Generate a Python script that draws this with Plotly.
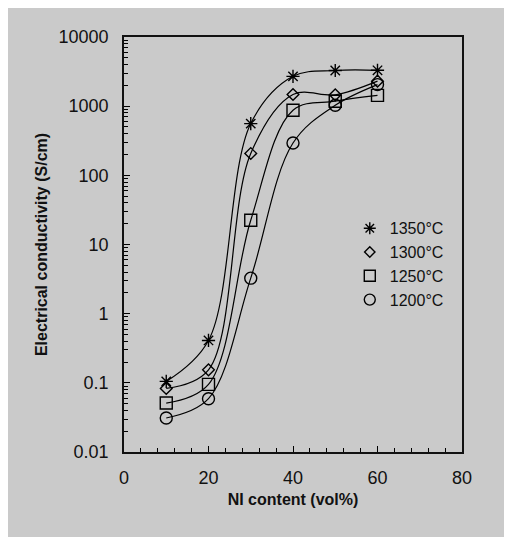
import plotly.graph_objects as go

ni_content = [10, 20, 30, 40, 50, 60]
temps = ["1350°C", "1300°C", "1250°C", "1200°C"]
cond_1350 = [0.105, 0.41, 560, 2700, 3280, 3300]
cond_1300 = [0.083, 0.154, 207, 1475, 1460, 2300]
cond_1250 = [0.051, 0.095, 22.4, 875, 1180, 1430]
cond_1200 = [0.031, 0.059, 3.26, 293, 1030, 2050]
series = [cond_1350, cond_1300, cond_1250, cond_1200]
symbols = ["asterisk-open", "diamond-open", "square-open", "circle-open"]
sizes = [11, 9, 12, 12]

y_tickvals = [0.01, 0.1, 1, 10, 100, 1000, 10000]
y_ticktext = ["0.01", "0.1", "1", "10", "100", "1000", "10000"]
x_tickvals = [0, 20, 40, 60, 80]

font_family = "Arial, Liberation Sans, sans-serif"
bg = "#cacaca"

fig = go.Figure()
for name, vals, sym, sz in zip(temps, series, symbols, sizes):
    fig.add_trace(go.Scatter(
        x=ni_content, y=vals, mode="lines+markers",
        line=dict(color="black", width=1.2, shape="spline", smoothing=1),
        marker=dict(symbol=sym, size=sz, color="black", line=dict(color="black", width=1.4)),
        showlegend=False, name=name))
for name, sym, sz in zip(temps, symbols, sizes):
    fig.add_trace(go.Scatter(
        x=[None], y=[None], mode="markers", name=name,
        marker=dict(symbol=sym, size=sz - 1, color="black", line=dict(color="black", width=1.4))))

minor_y = [m * 10 ** e for e in range(-2, 4) for m in range(2, 10)]

fig.update_layout(
    width=504, height=529,
    margin=dict(l=116, r=50, t=29, b=85),
    paper_bgcolor=bg, plot_bgcolor=bg,
    font=dict(family=font_family, color="#111111", size=18),
    legend=dict(x=0.668, y=0.58, xanchor="left", yanchor="top",
                bgcolor="rgba(0,0,0,0)", font=dict(size=16, family=font_family),
                itemwidth=30, tracegroupgap=0),
    xaxis=dict(range=[0, 80], tickvals=x_tickvals, ticks="inside", ticklen=6,
               tickwidth=1.2, tickcolor="black", automargin=False,
               showline=True, linecolor="#111111", linewidth=1.6, mirror=True,
               showgrid=False, zeroline=False, ticklabelstandoff=9,
               minor=dict(ticks="inside", ticklen=4, dtick=4, tickcolor="black", showgrid=False),
               title=dict(text="<b>NI content (vol%)</b>", font=dict(size=16), standoff=6)),
    yaxis=dict(type="log", range=[-2, 4], tickvals=y_tickvals, ticktext=y_ticktext,
               ticks="inside", ticklen=6, tickwidth=1.2, tickcolor="black", automargin=False,
               showline=True, linecolor="#111111", linewidth=1.6, mirror=True,
               showgrid=False, zeroline=False, ticklabelstandoff=10,
               minor=dict(ticks="inside", ticklen=4, tickvals=minor_y, tickcolor="black", showgrid=False),
               title=dict(text="<b>Electrical conductivity (S/cm)</b>", font=dict(size=16), standoff=7)),
)

fig.write_html("out.html")
